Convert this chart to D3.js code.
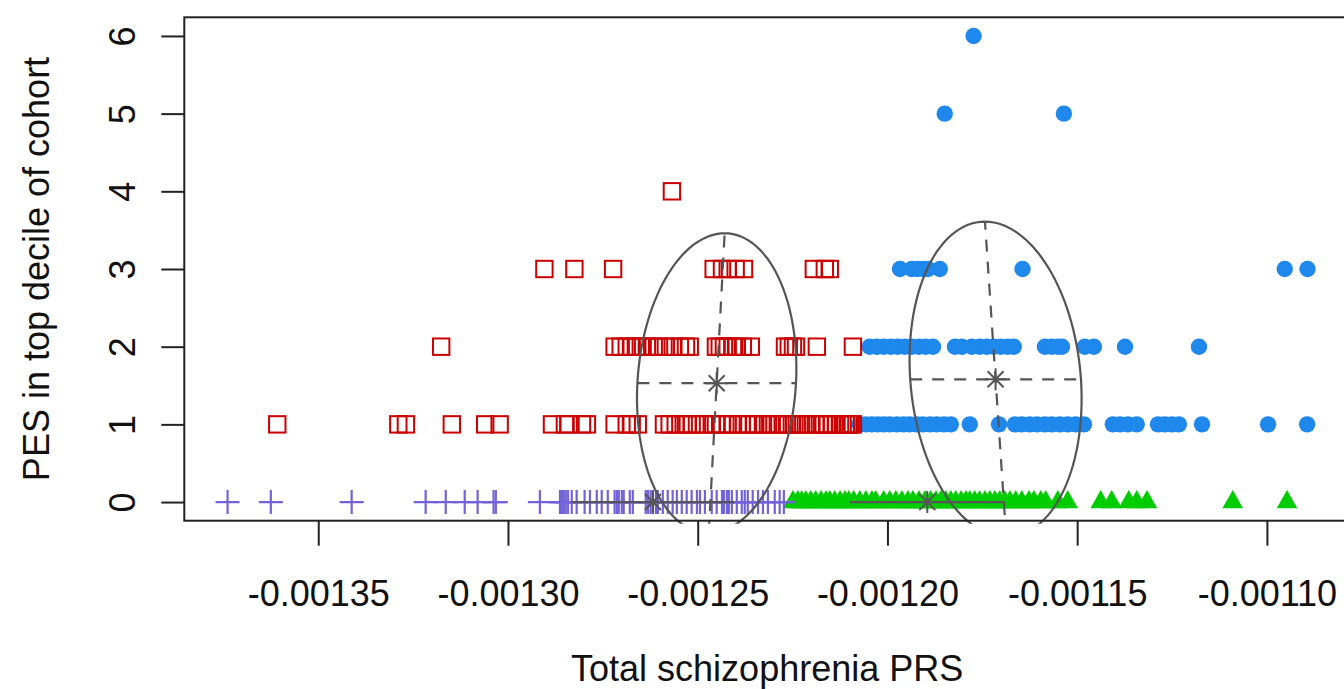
<!DOCTYPE html>
<html>
<head>
<meta charset="utf-8">
<script src="https://cdn.jsdelivr.net/npm/d3@7"></script>
<style>
  body { margin: 0; background: #fff; }
  svg { display: block; font-family: "Liberation Sans", Arial, Helvetica, sans-serif; }
</style>
</head>
<body>
<svg id="chart" width="1344" height="689"></svg>
<script>
// ---------------- DATA ----------------
// x = total schizophrenia PRS, y = PES count (one array of PRS values per PES row)

const purpleX0 = [-0.0013739, -0.0013625, -0.0013412, -0.0013217, -0.0013164, -0.0013114, -0.0013080,
  -0.0013038, -0.0013032, -0.0012916, -0.0012863, -0.0012858, -0.0012853, -0.0012848, -0.0012842,
  -0.0012832, -0.0012819, -0.0012798, -0.0012784, -0.0012766, -0.0012753, -0.0012737, -0.0012719,
  -0.0012713, -0.0012708, -0.0012700, -0.0012695, -0.0012679, -0.0012671, -0.0012637, -0.0012631,
  -0.0012624, -0.0012618, -0.0012610, -0.0012605, -0.0012592, -0.0012579, -0.0012566, -0.0012555,
  -0.0012542, -0.0012529, -0.0012516, -0.0012502, -0.0012494, -0.0012481, -0.0012463, -0.0012450,
  -0.0012436, -0.0012431, -0.0012423, -0.0012418, -0.0012410, -0.0012397, -0.0012384, -0.0012376,
  -0.0012368, -0.0012355, -0.0012341, -0.0012328, -0.0012315, -0.0012297, -0.0012284, -0.0012273];

const greenX0 = [-0.0012249, -0.0012236, -0.0012226, -0.0012215, -0.0012202, -0.0012189, -0.0012175,
  -0.0012162, -0.0012152, -0.0012139, -0.0012125, -0.0012112, -0.0012102, -0.0012089, -0.0012073,
  -0.0012057, -0.0012041, -0.0012031, -0.0012010, -0.0011994, -0.0011978, -0.0011962, -0.0011946,
  -0.0011933, -0.0011917, -0.0011901, -0.0011886, -0.0011872, -0.0011859, -0.0011846, -0.0011833,
  -0.0011820, -0.0011806, -0.0011793, -0.0011783, -0.0011770, -0.0011757, -0.0011743, -0.0011730,
  -0.0011717, -0.0011704, -0.0011691, -0.0011677, -0.0011662, -0.0011646, -0.0011627, -0.0011614,
  -0.0011596, -0.0011583, -0.0011551, -0.0011525, -0.0011438, -0.0011409, -0.0011364, -0.0011343,
  -0.0011316, -0.0011090, -0.0010947];

const redX1 = [-0.0013608, -0.0013289, -0.0013269, -0.0013148, -0.0013060, -0.0013022, -0.0012884,
  -0.0012850, -0.0012840, -0.0012805, -0.0012792, -0.0012719, -0.0012687, -0.0012674, -0.0012658,
  -0.0012589, -0.0012574, -0.0012558, -0.0012537, -0.0012526, -0.0012516, -0.0012502, -0.0012484,
  -0.0012463, -0.0012452, -0.0012436, -0.0012421, -0.0012407, -0.0012394, -0.0012384, -0.0012368,
  -0.0012352, -0.0012341, -0.0012328, -0.0012315, -0.0012305, -0.0012289, -0.0012276, -0.0012265,
  -0.0012252, -0.0012239, -0.0012228, -0.0012215, -0.0012202, -0.0012189, -0.0012178, -0.0012168,
  -0.0012157, -0.0012147, -0.0012136, -0.0012125, -0.0012118, -0.0012110, -0.0012102, -0.0012097,
  -0.0012091];
const redX2 = [-0.0013176, -0.0012719, -0.0012703, -0.0012687, -0.0012674, -0.0012663, -0.0012650,
  -0.0012634, -0.0012616, -0.0012602, -0.0012584, -0.0012566, -0.0012547, -0.0012531, -0.0012521,
  -0.0012452, -0.0012442, -0.0012431, -0.0012421, -0.0012407, -0.0012397, -0.0012381, -0.0012360,
  -0.0012270, -0.0012260, -0.0012249, -0.0012241, -0.0012186, -0.0012091];
const redX3 = [-0.0012904, -0.0012825, -0.0012723, -0.0012458, -0.0012436, -0.0012421, -0.0012400,
  -0.0012378, -0.0012194, -0.0012165, -0.0012152];
const redX4 = [-0.0012568];

const blueX1 = [-0.0012073, -0.0012057, -0.0012041, -0.0012025, -0.0012010, -0.0011994, -0.0011975,
  -0.0011957, -0.0011941, -0.0011923, -0.0011907, -0.0011888, -0.0011870, -0.0011851, -0.0011833,
  -0.0011783, -0.0011706, -0.0011664, -0.0011646, -0.0011625, -0.0011606, -0.0011585, -0.0011567,
  -0.0011546, -0.0011525, -0.0011504, -0.0011482, -0.0011406, -0.0011387, -0.0011366, -0.0011343,
  -0.0011287, -0.0011269, -0.0011250, -0.0011232, -0.0011171, -0.0010997, -0.0010894];
const blueX2 = [-0.0012047, -0.0012028, -0.0012010, -0.0011991, -0.0011973, -0.0011954, -0.0011936,
  -0.0011917, -0.0011899, -0.0011880, -0.0011822, -0.0011804, -0.0011778, -0.0011757, -0.0011738,
  -0.0011720, -0.0011701, -0.0011683, -0.0011667, -0.0011585, -0.0011567, -0.0011551, -0.0011540,
  -0.0011480, -0.0011456, -0.0011374, -0.0011179];
const blueX3 = [-0.0011967, -0.0011936, -0.0011920, -0.0011904, -0.0011893, -0.0011862, -0.0011644,
  -0.0010953, -0.0010893];
const blueX5 = [-0.0011849, -0.0011535];
const blueX6 = [-0.0011773];

// ellipse summaries (centre, half conjugate axes)
const ellCX = [-0.0012450, -0.0011715];
const ellCY = [1.53, 1.58];
const ellMajorDX = [0.0000021, -0.0000028];
const ellMajorDY = [1.93, 2.03];
const ellMinorDX = [0.0000209, 0.0000225];
// groups with no PES spread collapse to a segment on y = 0
const segCX = [-0.0012618, -0.0011895];
const segHalf = [0.0000214, 0.0000204];

const xTicks = [-0.00135, -0.00130, -0.00125, -0.00120, -0.00115, -0.00110];
const yTicks = [0, 1, 2, 3, 4, 5, 6];

// ---------------- CHART ----------------
const svg = d3.select("#chart");
const plot = { left: 184.3, top: 17.3, right: 1350, bottom: 520.7 };
const grey = "#555";

const x = d3.scaleLinear().domain([-0.0013853, -0.0010781]).range([plot.left, plot.right]);
const y = d3.scaleLinear().domain([-0.24, 6.24]).range([plot.bottom, plot.top]);

const toPts = (xs, v) => xs.map(d => ({ x: d, y: v }));
const purple = toPts(purpleX0, 0);
const green = toPts(greenX0, 0);
const red = [].concat(toPts(redX1, 1), toPts(redX2, 2), toPts(redX3, 3), toPts(redX4, 4));
const blue = [].concat(toPts(blueX1, 1), toPts(blueX2, 2), toPts(blueX3, 3), toPts(blueX5, 5), toPts(blueX6, 6));

svg.append("defs").append("clipPath").attr("id", "clip")
  .append("rect")
  .attr("x", plot.left).attr("y", plot.top)
  .attr("width", plot.right - plot.left).attr("height", plot.bottom - plot.top + 3);

const pos = d => `translate(${x(d.x)},${y(d.y)})`;

// green triangles
svg.append("g").selectAll("path").data(green).join("path")
  .attr("transform", pos)
  .attr("d", "M0,-12L10.3,6.3L-10.3,6.3Z")
  .attr("fill", "#00CD00");

// blue circles
svg.append("g").selectAll("circle").data(blue).join("circle")
  .attr("cx", d => x(d.x)).attr("cy", d => y(d.y))
  .attr("r", 8.2)
  .attr("fill", "#1E88EC");

// purple plus
svg.append("g").selectAll("path").data(purple).join("path")
  .attr("transform", pos)
  .attr("d", "M-12,0H12M0,-12V12")
  .attr("fill", "none")
  .attr("stroke", "#7363DA")
  .attr("stroke-width", 2.2);

// red open squares
svg.append("g").selectAll("rect").data(red).join("rect")
  .attr("x", d => x(d.x) - 8.2).attr("y", d => y(d.y) - 8.2)
  .attr("width", 16.4).attr("height", 16.4)
  .attr("fill", "none")
  .attr("stroke", "#CC0000")
  .attr("stroke-width", 2);

// ellipses + axes
const eg = svg.append("g").attr("clip-path", "url(#clip)")
  .attr("fill", "none").attr("stroke", grey).attr("stroke-width", 2.2);

const line = d3.line();
ellCX.forEach((cx, i) => {
  const cy = ellCY[i];
  const pts = d3.range(0, 361, 3).map(a => {
    const t = a * Math.PI / 180;
    return [x(cx + ellMajorDX[i] * Math.cos(t) + ellMinorDX[i] * Math.sin(t)),
            y(cy + ellMajorDY[i] * Math.cos(t))];
  });
  eg.append("path").attr("d", line(pts));
  eg.append("line")
    .attr("x1", x(cx - ellMajorDX[i])).attr("y1", y(cy - ellMajorDY[i]))
    .attr("x2", x(cx + ellMajorDX[i])).attr("y2", y(cy + ellMajorDY[i]))
    .attr("stroke-dasharray", "12,10");
  eg.append("line")
    .attr("x1", x(cx - ellMinorDX[i])).attr("y1", y(cy))
    .attr("x2", x(cx + ellMinorDX[i])).attr("y2", y(cy))
    .attr("stroke-dasharray", "12,10");
});

segCX.forEach((cx, i) => {
  eg.append("line")
    .attr("x1", x(cx - segHalf[i])).attr("y1", y(0))
    .attr("x2", x(cx + segHalf[i])).attr("y2", y(0));
});

// centre stars (pch 8)
const centres = ellCX.map((cx, i) => ({ x: cx, y: ellCY[i] }))
  .concat(segCX.map(cx => ({ x: cx, y: 0 })));
svg.append("g").selectAll("path").data(centres).join("path")
  .attr("transform", pos)
  .attr("d", "M-11,0H11M0,-11V11M-8,-8L8,8M-8,8L8,-8")
  .attr("fill", "none")
  .attr("stroke", grey)
  .attr("stroke-width", 2);

// box
svg.append("rect")
  .attr("x", plot.left).attr("y", plot.top)
  .attr("width", plot.right - plot.left).attr("height", plot.bottom - plot.top)
  .attr("fill", "none").attr("stroke", "#222").attr("stroke-width", 2);

// axes
const xg = svg.append("g").attr("transform", `translate(0,${plot.bottom})`)
  .call(d3.axisBottom(x).tickValues(xTicks).tickSize(25).tickFormat(d => d.toFixed(5)));
xg.select(".domain").remove();
xg.selectAll("line").attr("stroke", "#222").attr("stroke-width", 2);
xg.selectAll("text").attr("y", 85).attr("dy", null)
  .attr("font-size", 36).attr("font-family", null).attr("fill", "#111");

const yg = svg.append("g").attr("transform", `translate(${plot.left},0)`)
  .call(d3.axisLeft(y).tickValues(yTicks).tickSize(23).tickFormat(d3.format("d")));
yg.select(".domain").remove();
yg.selectAll("line").attr("stroke", "#222").attr("stroke-width", 2);
yg.selectAll("text")
  .attr("x", 0).attr("y", -49.3).attr("dy", null)
  .attr("transform", "rotate(-90)")
  .attr("text-anchor", "middle")
  .attr("font-size", 36).attr("font-family", null).attr("fill", "#111");

// titles
svg.append("text")
  .attr("x", (plot.left + plot.right) / 2).attr("y", 681)
  .attr("text-anchor", "middle").attr("font-size", 36).attr("fill", "#111")
  .text("Total schizophrenia PRS");

svg.append("text")
  .attr("transform", `translate(49,${(plot.top + plot.bottom) / 2}) rotate(-90)`)
  .attr("text-anchor", "middle").attr("font-size", 36).attr("fill", "#111")
  .text("PES in top decile of cohort");
</script>
</body>
</html>
